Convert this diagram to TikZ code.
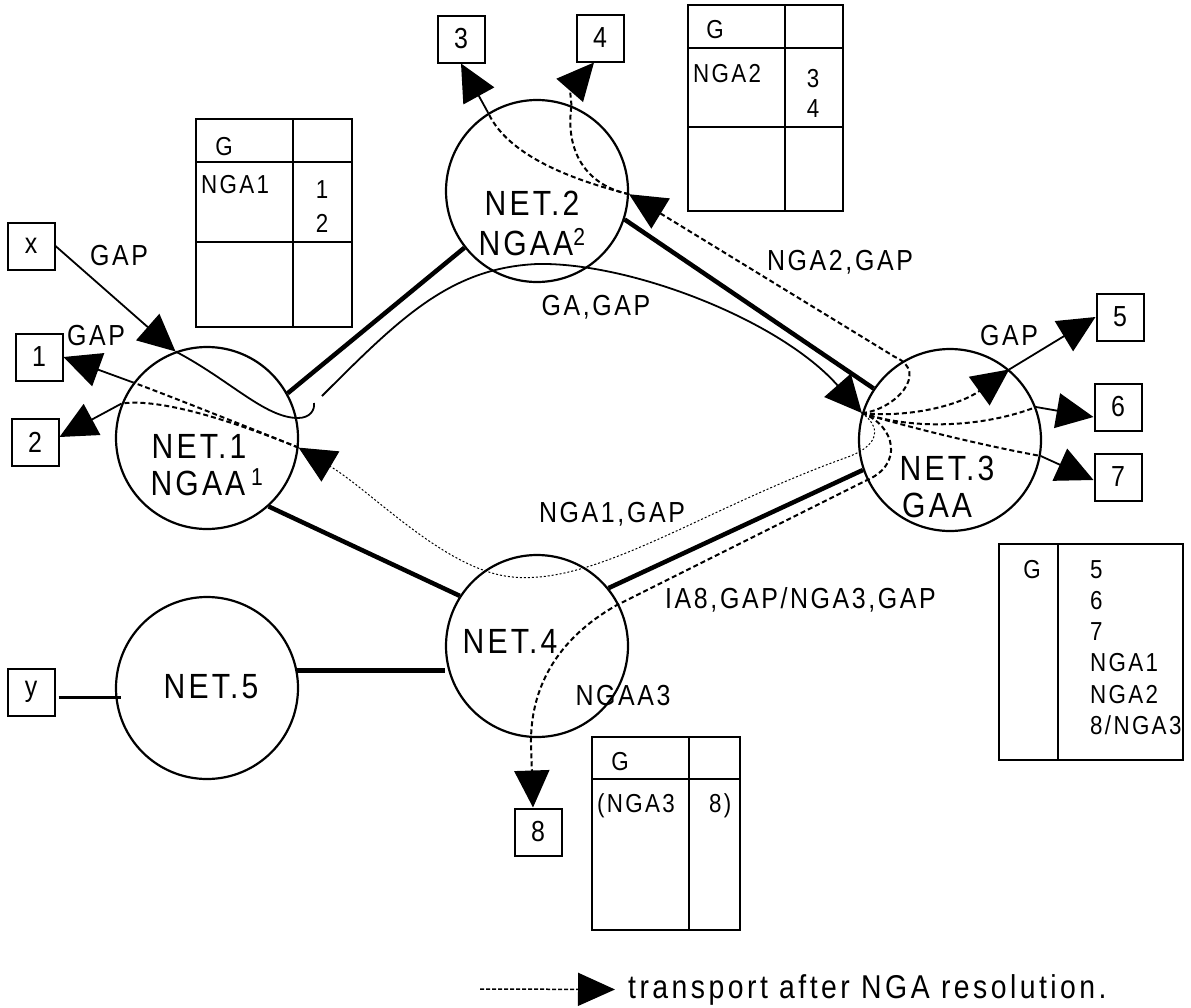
\documentclass[tikz,border=0pt]{standalone}
\usepackage{fontspec}
\setmainfont{Liberation Sans}[FakeStretch=0.86,LetterSpace=9]
\usetikzlibrary{arrows.meta}

\begin{document}
\begin{tikzpicture}[x=1pt,y=-1pt,
  netw/.style={circle,draw,line width=2.2pt,minimum size=182pt,inner sep=0pt},
  boxn/.style={draw,line width=2pt,minimum size=47pt,inner sep=0pt,font=\fontsize{29}{30}\selectfont},
  trunk/.style={line width=4.5pt},
  solidln/.style={line width=1.8pt},
  dashln/.style={line width=2pt,dash pattern=on 5pt off 3pt},
  dotln/.style={line width=1pt,dash pattern=on 2pt off 2pt},
  bigtip/.style={-{Triangle[length=37pt,width=35pt]}},
  lbl/.style={inner sep=0pt,anchor=base,font=\fontsize{29}{30}\selectfont},
  netlbl/.style={inner sep=0pt,anchor=base,font=\fontsize{35}{36}\selectfont},
  tbl/.style={line width=2.5pt},
  tbltxt/.style={inner sep=0pt,anchor=base,font=\fontsize{26}{28}\selectfont}]
  \useasboundingbox (0,0) rectangle (1191,1007);

  % networks
  \node[netw] (n1) at (207,438) {};
  \node[netw] (n2) at (537,191) {};
  \node[netw] (n3) at (950,440) {};
  \node[netw] (n4) at (537,646) {};
  \node[netw] (n5) at (207,688) {};

  \node[netlbl] (n1a) at (199,458) {NET.1};
  \node[netlbl] (n1b) at (207,495) {NGAA\,\textsuperscript{1}};
  \node[netlbl] (n2a) at (532,215) {NET.2};
  \node[netlbl] (n2b) at (532,255) {NGAA\textsuperscript{2}};
  \node[netlbl] (n3a) at (947,480) {NET.3};
  \node[netlbl,anchor=base west] (n3b) at (902,517) {GAA};
  \node[netlbl] (n4a) at (510,653) {NET.4};
  \node[netlbl] (n5a) at (211,698) {NET.5};

  % end systems
  \node[boxn] (bx) at (31,246) {x};
  \node[boxn] (b1) at (39,357) {1};
  \node[boxn] (b2) at (35,442) {2};
  \node[boxn] (b3) at (461,39) {3};
  \node[boxn] (b4) at (600,38) {4};
  \node[boxn] (b5) at (1120,317) {5};
  \node[boxn] (b6) at (1118,407) {6};
  \node[boxn] (b7) at (1118,477) {7};
  \node[boxn] (b8) at (538,832) {8};
  \node[boxn] (by) at (31,692) {y};

  % links
  \draw[trunk] (n1.29) -- (n2.218);
  \draw[trunk] (n2.342) -- (n3.146);
  \draw[trunk] (n1.312) -- (n4.147);
  \draw[trunk] (n4.39) -- (n3.199);
  \draw[trunk] (n5.11) -- (n5.11 -| n4.west);
  \draw[line width=3pt] ([xshift=3pt,yshift=-5pt]by.east) -- ([xshift=6pt,yshift=-9pt]n5.west);

  % GA,GAP
  \coordinate (hub) at (n3.163);
  \coordinate (gs) at (322,396);
  \draw[solidln,bigtip] (bx.east) -- (n1.110);
  \draw[solidln] (n1.110) .. controls (230,380) and (265,418) .. (298,418) .. controls (310,418) and (315,410) .. (314,403);
  \draw[solidln,bigtip] (gs) .. controls (400,318) and (450,268) .. (537,264) .. controls (630,262) and (780,320) .. (hub);

  % NGA2,GAP
  \draw[dashln,bigtip] (hub) .. controls (895,410) and (930,372) .. (895,357) -- (n2.358);
  \draw[dashln] (n2.358) .. controls (585,183) and (510,160) .. (n2.122);
  \draw[dashln] (n2.358) .. controls (585,185) and (565,150) .. (n2.68);
  \draw[solidln,bigtip] (n2.122) -- (b3.south);
  \draw[dashln,bigtip] (n2.68) .. controls (570,90) .. ([xshift=-6pt]b4.south);

  % NET.3 out
  \draw[dashln,bigtip] (hub) .. controls (910,418) and (960,405) .. (n3.50);
  \draw[solidln,bigtip] (n3.50) -- (b5.west);
  \draw[dashln] (hub) .. controls (920,432) and (990,425) .. (n3.21);
  \draw[solidln,bigtip] (n3.21) -- ([yshift=-10pt]b6.west);
  \draw[dashln] (hub) .. controls (900,425) and (980,445) .. (n3.350);
  \draw[solidln,bigtip] (n3.350) -- ([yshift=-3pt]b7.west);

  % IA8,GAP/NGA3,GAP
  \draw[dashln,bigtip] (hub) .. controls (895,425) and (905,465) .. (865,481) -- (617,605) .. controls (555,640) and (530,690) .. (531,745) -- ([xshift=-5pt]b8.north);

  % NGA1,GAP
  \draw[dotln,bigtip] (hub) .. controls (885,430) and (875,448) .. (845,458) .. controls (700,510) and (590,590) .. (505,576) .. controls (440,565) and (370,490) .. (n1.354);
  \draw[dashln] (n1.354) .. controls (250,428) and (180,400) .. (n1.143);
  \draw[dashln] (n1.354) .. controls (230,420) and (160,398) .. (n1.158);
  \draw[solidln,bigtip] (n1.143) -- (b1.east);
  \draw[solidln,bigtip] (n1.158) -- ([yshift=5pt]b2.east);

  % labels
  \node[lbl] (l1) at (119,265) {GAP};
  \node[lbl] (l2) at (96,345) {GAP};
  \node[lbl] (l3) at (596,315) {GA,GAP};
  \node[lbl] (l4) at (840,270) {NGA2,GAP};
  \node[lbl] (l5) at (1009,345) {GAP};
  \node[lbl] (l6) at (612,522) {NGA1,GAP};
  \node[lbl,anchor=base west] (l7) at (665,608) {IA8,GAP/NGA3,GAP};
  \node[lbl] (l8) at (623,705) {NGAA3};

  % tables
  \draw[tbl] (196,119) rectangle (352,327) (293,119) -- (293,327) (196,162) -- (352,162) (196,242) -- (352,242);
  \node[tbltxt] (t1g) at (224,155) {G};
  \node[tbltxt,anchor=base west] (t1n) at (201,193) {NGA1};
  \node[tbltxt] (t1a) at (322,198) {1};
  \node[tbltxt] (t1b) at (322,232) {2};

  \draw[tbl] (688,5) rectangle (843,211) (785,5) -- (785,211) (688,48) -- (843,48) (688,127) -- (843,127);
  \node[tbltxt] (t2g) at (715,38) {G};
  \node[tbltxt,anchor=base west] (t2n) at (693,82) {NGA2};
  \node[tbltxt] (t2a) at (813,87) {3};
  \node[tbltxt] (t2b) at (813,117) {4};

  \draw[tbl] (999,544) rectangle (1183,760) (1058,544) -- (1058,760);
  \node[tbltxt] (t3g) at (1032,578) {G};
  \foreach \txt [count=\i] in {5,6,7,NGA1,NGA2,8/NGA3}
    \node[tbltxt,anchor=base west] (t3n\i) at (1090,547+31.2*\i) {\txt};

  \draw[tbl] (592,737) rectangle (740,930) (689,737) -- (689,930) (592,779) -- (740,779);
  \node[tbltxt] (t4g) at (620,770) {G};
  \node[tbltxt,anchor=base west] (t4n) at (597,812) {(NGA3};
  \node[tbltxt,anchor=base west] (t4a) at (709,812) {8)};

  % legend
  \coordinate (lg) at (480,989);
  \node[lbl,anchor=base west,font=\fontsize{33}{34}\selectfont\addfontfeatures{LetterSpace=10.5}] (lgt) at (628,998) {transport after NGA resolution.};
  \draw[line width=1.5pt,dash pattern=on 4pt off 2pt,-{Triangle[length=37pt,width=33pt]}] (lg) -- ([xshift=-13pt]lgt.west);
\end{tikzpicture}
\end{document}
